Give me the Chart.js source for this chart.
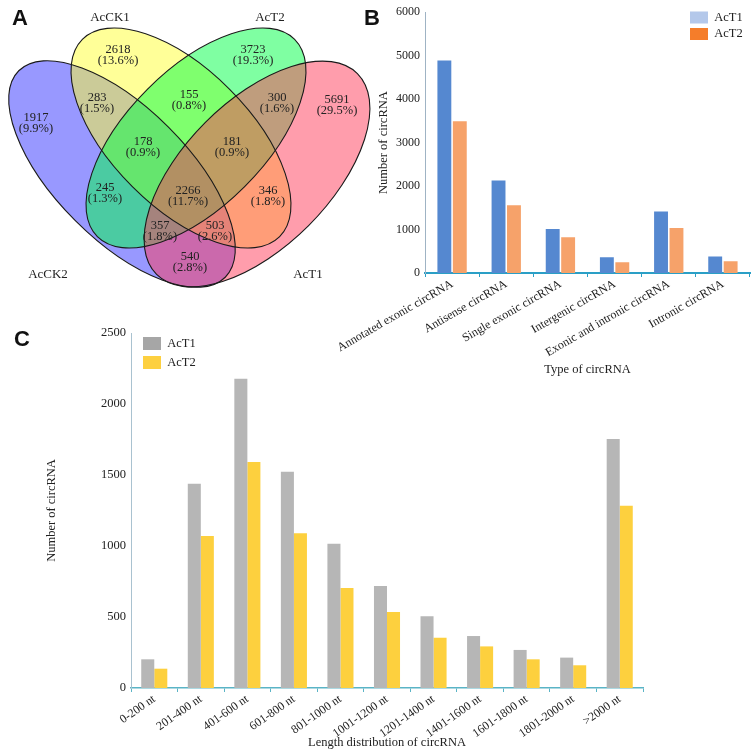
<!DOCTYPE html>
<html>
<head>
<meta charset="utf-8">
<script src="https://cdn.jsdelivr.net/npm/chart.js@4.4.0/dist/chart.umd.min.js"></script>
<style>
  body { margin: 0; background: #fff; }
  #wrap { position: relative; width: 754px; height: 754px; overflow: hidden; background: #fff; }
  #wrap canvas { position: absolute; }
  .tag { position: absolute; font: bold 22px "Liberation Sans", Arial, sans-serif; color: #111; line-height: 1; }
</style>
</head>
<body>
<div id="wrap">
  <canvas id="venn" width="375" height="300" style="left:0;top:0"></canvas>
  <canvas id="typeChart" width="434" height="380" style="left:320px;top:0"></canvas>
  <canvas id="lenChart" width="660" height="454" style="left:0;top:300px"></canvas>
  <div class="tag" style="left:12px;top:7px">A</div>
  <div class="tag" style="left:364px;top:7px">B</div>
  <div class="tag" style="left:14px;top:328px">C</div>
</div>
<script>
// ---- data ----
const vennSets = ['AcCK2', 'AcCK1', 'AcT2', 'AcT1'];
const vennCounts = [1917, 2618, 3723, 5691, 283, 155, 300, 178, 181, 245, 2266, 346, 357, 503, 540];

const typeLabels = ['Annotated exonic circRNA', 'Antisense circRNA', 'Single exonic circRNA',
    'Intergenic circRNA', 'Exonic and intronic circRNA', 'Intronic circRNA'];
const typeAcT1 = [4890, 2130, 1010, 365, 1415, 380];
const typeAcT2 = [3490, 1560, 820, 250, 1035, 270];

const lenLabels = ['0-200 nt', '201-400 nt', '401-600 nt', '601-800 nt', '801-1000 nt', '1001-1200 nt',
    '1201-1400 nt', '1401-1600 nt', '1601-1800 nt', '1801-2000 nt', '>2000 nt'];
const lenAcT1 = [202, 1439, 2178, 1523, 1016, 718, 505, 366, 268, 214, 1754];
const lenAcT2 = [136, 1070, 1592, 1089, 704, 535, 354, 293, 202, 160, 1284];

// ---- venn layout (panel units, y pointing down) ----
const vennShapes = [
    { cx: 122, cy: 174, a: 146, b: 66, rot: 45, fill: 'rgba(50,50,255,0.5)' },
    { cx: 181, cy: 138, a: 139.5, b: 68.8, rot: 45, fill: 'rgba(255,255,50,0.5)' },
    { cx: 196, cy: 138, a: 139.5, b: 68.8, rot: -45, fill: 'rgba(0,255,70,0.5)' },
    { cx: 257, cy: 174, a: 142, b: 73, rot: -45, fill: 'rgba(255,60,90,0.5)' }
];
const vennRegionPos = [
    [36, 123], [118, 55], [253, 55], [337, 105],
    [97, 103], [189, 100.5], [277, 103],
    [143, 147.5], [232, 147.5],
    [105, 193], [188, 196], [268, 196],
    [160, 231], [215, 231], [190, 262]
];
const vennSetPos = [[48, 275], [110, 18], [270, 18], [308, 275]];

const serif = '"Liberation Serif", "Times New Roman", serif';
const textColor = '#222';

const vennTotal = vennCounts.reduce((s, v) => s + v, 0);

const vennPlugin = {
    id: 'vennShapes',
    beforeDatasetsDraw(chart) {
        const ctx = chart.ctx;
        const xs = chart.scales.x, ys = chart.scales.y;
        const sx = xs.getPixelForValue(1) - xs.getPixelForValue(0);
        const sy = ys.getPixelForValue(1) - ys.getPixelForValue(0);
        const trace = e => {
            ctx.save();
            ctx.beginPath();
            ctx.translate(xs.getPixelForValue(e.cx), ys.getPixelForValue(e.cy));
            ctx.scale(sx, sy);
            ctx.rotate(e.rot * Math.PI / 180);
            ctx.ellipse(0, 0, e.a, e.b, 0, 0, Math.PI * 2);
            ctx.restore();
        };
        vennShapes.forEach(e => {
            trace(e);
            ctx.fillStyle = e.fill;
            ctx.fill();
        });
        // outlines on top of all fills
        vennShapes.forEach(e => {
            trace(e);
            ctx.strokeStyle = '#1a1a1a';
            ctx.lineWidth = 1.1;
            ctx.stroke();
        });
    },
    afterDatasetsDraw(chart) {
        const ctx = chart.ctx;
        ctx.save();
        ctx.fillStyle = textColor;
        ctx.textAlign = 'center';
        ctx.textBaseline = 'middle';
        ctx.font = '12.5px ' + serif;
        chart.getDatasetMeta(0).data.forEach((pt, i) => {
            const n = vennCounts[i];
            ctx.fillText(String(n), pt.x, pt.y - 5.5);
            ctx.fillText('(' + (n / vennTotal * 100).toFixed(1) + '%)', pt.x, pt.y + 5.5);
        });
        ctx.font = '13px ' + serif;
        chart.getDatasetMeta(1).data.forEach((pt, i) => {
            ctx.fillText(vennSets[i], pt.x, pt.y);
        });
        ctx.restore();
    }
};

new Chart(document.getElementById('venn'), {
    type: 'scatter',
    data: {
        datasets: [
            { data: vennRegionPos.map(p => ({ x: p[0], y: p[1] })), pointRadius: 0 },
            { data: vennSetPos.map(p => ({ x: p[0], y: p[1] })), pointRadius: 0 }
        ]
    },
    options: {
        responsive: false,
        animation: false,
        events: [],
        layout: { padding: 0 },
        plugins: { legend: { display: false }, tooltip: { enabled: false } },
        scales: {
            x: { type: 'linear', display: false, min: 0, max: 375 },
            y: { type: 'linear', display: false, min: 0, max: 300, reverse: true }
        }
    },
    plugins: [vennPlugin]
});

// legend pinned at a spot relative to the chart area
const pinLegend = (dx, dy, fromRight) => ({
    id: 'pinLegend',
    afterLayout(chart) {
        const lg = chart.legend;
        const pad = lg.options.labels.padding;
        const area = chart.chartArea;
        const w = lg.width, h = lg.height;
        const x = fromRight ? area.right - dx : area.left + dx;
        lg.left = x - pad;
        lg.right = lg.left + w;
        lg.top = area.top + dy - pad;
        lg.bottom = lg.top + h;
    }
});

const legendFrom = colors => chart => chart.data.datasets.map((ds, i) => ({
    text: ds.label,
    fillStyle: colors[i],
    strokeStyle: colors[i],
    lineWidth: 0,
    hidden: false,
    datasetIndex: i,
    fontColor: textColor
}));

const plain = v => String(v);

// ---- B: type of circRNA ----
new Chart(document.getElementById('typeChart'), {
    type: 'bar',
    data: {
        labels: typeLabels,
        datasets: [
            { label: 'AcT1', data: typeAcT1, backgroundColor: '#5588d0', categoryPercentage: 0.57, barPercentage: 0.9 },
            { label: 'AcT2', data: typeAcT2, backgroundColor: '#f6a26a', categoryPercentage: 0.57, barPercentage: 0.9 }
        ]
    },
    options: {
        responsive: false,
        animation: false,
        events: [],
        layout: { padding: { top: 11, right: 4, left: 0, bottom: 0 } },
        plugins: {
            tooltip: { enabled: false },
            legend: {
                position: 'chartArea',
                align: 'start',
                labels: {
                    boxWidth: 18, boxHeight: 12, padding: 4,
                    font: { family: serif, size: 12.5 },
                    color: textColor,
                    generateLabels: legendFrom(['#b4c8ea', '#f57d2a'])
                }
            }
        },
        scales: {
            x: {
                grid: { display: true, drawOnChartArea: false, tickLength: 4, color: '#2a9fc6' },
                border: { color: '#2a9fc6', width: 2 },
                ticks: { minRotation: 30, maxRotation: 30, autoSkip: false, padding: 0, color: textColor, font: { family: serif, size: 12 } },
                title: { display: true, text: 'Type of circRNA', color: textColor, font: { family: serif, size: 12.5 }, padding: { top: 0, bottom: 3 } },
                afterFit: s => { s.height = 107; }
            },
            y: {
                min: 0, max: 6000,
                ticks: { stepSize: 1000, padding: 5, color: textColor, font: { family: serif, size: 12 }, callback: plain },
                grid: { display: false, drawTicks: false },
                border: { color: '#9fb3c4', width: 1 },
                title: { display: true, text: 'Number of circRNA', color: textColor, font: { family: serif, size: 12.5 }, padding: { top: 56, bottom: 0 } },
                afterFit: s => { s.width = 105; }
            }
        }
    },
    plugins: [pinLegend(60, -1, true)]
});

// ---- C: length distribution ----
new Chart(document.getElementById('lenChart'), {
    type: 'bar',
    data: {
        labels: lenLabels,
        datasets: [
            { label: 'AcT1', data: lenAcT1, backgroundColor: '#b6b6b6', categoryPercentage: 0.56, barPercentage: 1.0 },
            { label: 'AcT2', data: lenAcT2, backgroundColor: '#fdd03e', categoryPercentage: 0.56, barPercentage: 1.0 }
        ]
    },
    options: {
        responsive: false,
        animation: false,
        events: [],
        layout: { padding: { top: 33, right: 17, left: 0, bottom: 0 } },
        plugins: {
            tooltip: { enabled: false },
            legend: {
                position: 'chartArea',
                align: 'start',
                labels: {
                    boxWidth: 18, boxHeight: 13, padding: 6,
                    font: { family: serif, size: 12.5 },
                    color: textColor,
                    generateLabels: legendFrom(['#a6a6a6', '#fdd040'])
                }
            }
        },
        scales: {
            x: {
                grid: { display: true, drawOnChartArea: false, tickLength: 4, color: '#5ab4c6' },
                border: { color: '#5ab4c6', width: 1.5 },
                ticks: { minRotation: 35, maxRotation: 35, autoSkip: false, padding: 0, color: textColor, font: { family: serif, size: 12 } },
                title: { display: true, text: 'Length distribution of circRNA', color: textColor, font: { family: serif, size: 12.5 }, padding: { top: 0, bottom: 4 } },
                afterFit: s => { s.height = 66; }
            },
            y: {
                min: 0, max: 2500,
                ticks: { stepSize: 500, padding: 5, color: textColor, font: { family: serif, size: 12.5 }, callback: plain },
                grid: { display: false, drawTicks: false },
                border: { color: '#a9c2d0', width: 1 },
                title: { display: true, text: 'Number of circRNA', color: textColor, font: { family: serif, size: 12.5 }, padding: { top: 44, bottom: 0 } },
                afterFit: s => { s.width = 131; }
            }
        }
    },
    plugins: [pinLegend(12, 4, false)]
});
</script>
</body>
</html>
